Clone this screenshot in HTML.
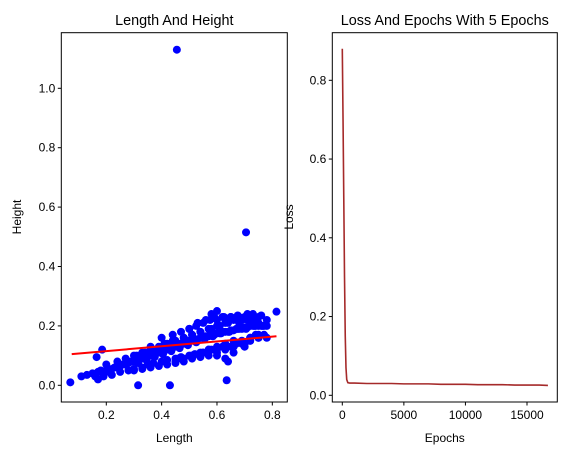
<!DOCTYPE html>
<html><head><meta charset="utf-8"><style>
body{margin:0;background:#fff}
svg{display:block;font-family:"Liberation Sans","DejaVu Sans",sans-serif}
</style></head><body>
<svg id="fig" width="585" height="455"></svg>
<script>
// Scatter data (Length vs Height)
const lengths = [0.07,0.11,0.13,0.15,0.16,0.17,0.18,0.19,0.2,0.21,0.22,0.23,0.24,0.25,0.26,0.27,0.28,0.29,0.3,0.31,0.32,0.33,0.34,0.35,0.36,0.37,0.38,0.39,0.4,0.41,0.42,0.43,0.44,0.45,0.46,0.47,0.48,0.49,0.5,0.51,0.52,0.53,0.54,0.55,0.56,0.57,0.58,0.59,0.6,0.61,0.62,0.63,0.64,0.65,0.66,0.67,0.68,0.69,0.7,0.71,0.72,0.73,0.74,0.75,0.76,0.77,0.78,
0.17,0.19,0.22,0.25,0.28,0.3,0.33,0.35,0.37,0.4,0.42,0.45,0.47,0.5,0.52,0.55,0.57,0.6,0.62,0.65,0.67,0.7,0.72,0.75,0.77,
0.2,0.24,0.27,0.31,0.34,0.38,0.41,0.44,0.48,0.51,0.54,0.58,0.61,0.64,0.68,0.71,0.74,
0.36,0.4,0.44,0.47,0.5,0.53,0.56,0.59,0.62,0.65,0.68,0.71,0.73,0.76,
0.46,0.51,0.55,0.58,0.6,0.63,0.66,0.69,0.72,0.74,
0.3,0.33,0.36,0.39,0.42,0.45,0.48,0.51,0.54,0.57,0.6,0.63,0.66,0.69,0.72,0.75,0.78,
0.3,0.33,0.36,0.39,0.42,0.45,0.48,0.51,0.54,0.57,0.6,0.63,0.66,0.69,0.72,0.75,0.78,
0.315,0.345,0.375,0.405,0.435,0.465,0.495,0.525,0.555,0.585,0.615,0.645,0.675,0.705,0.735,0.765,
0.45,0.48,0.51,0.54,0.57,0.6,0.63,0.66,0.69,0.72,0.75,
0.5,0.525,0.55,0.575,0.6,0.625,0.65,0.675,0.7,0.725,0.75,
0.455,0.705,0.815,0.315,0.43,0.635,0.64,0.185,0.165,0.7,0.58,0.6];
const heights = [0.01,0.03,0.035,0.04,0.03,0.045,0.05,0.04,0.05,0.045,0.055,0.06,0.06,0.065,0.07,0.07,0.075,0.08,0.08,0.085,0.09,0.09,0.095,0.1,0.1,0.105,0.11,0.11,0.115,0.12,0.12,0.125,0.13,0.13,0.135,0.14,0.14,0.145,0.15,0.15,0.155,0.155,0.16,0.16,0.165,0.165,0.17,0.17,0.175,0.175,0.18,0.18,0.18,0.185,0.185,0.19,0.19,0.19,0.195,0.195,0.2,0.2,0.2,0.2,0.2,0.2,0.2,
0.02,0.03,0.035,0.045,0.05,0.055,0.06,0.07,0.075,0.08,0.085,0.09,0.095,0.1,0.105,0.11,0.12,0.12,0.13,0.13,0.14,0.14,0.15,0.16,0.17,
0.07,0.08,0.09,0.1,0.11,0.12,0.14,0.15,0.16,0.17,0.18,0.19,0.2,0.21,0.21,0.22,0.22,
0.13,0.16,0.17,0.18,0.19,0.21,0.22,0.23,0.23,0.23,0.23,0.24,0.24,0.235,
0.09,0.1,0.11,0.12,0.1,0.09,0.11,0.14,0.16,0.17,
0.05,0.055,0.06,0.065,0.07,0.075,0.08,0.09,0.095,0.1,0.11,0.12,0.13,0.14,0.15,0.16,0.16,
0.1,0.11,0.12,0.13,0.14,0.15,0.16,0.17,0.18,0.19,0.2,0.21,0.22,0.22,0.23,0.23,0.22,
0.075,0.085,0.095,0.105,0.115,0.125,0.135,0.145,0.155,0.165,0.175,0.18,0.19,0.19,0.2,0.2,
0.08,0.09,0.1,0.11,0.12,0.13,0.14,0.15,0.15,0.16,0.17,
0.19,0.2,0.21,0.22,0.22,0.23,0.23,0.235,0.23,0.22,0.21,
1.13,0.515,0.248,0.0,0.0,0.017,0.08,0.12,0.095,0.13,0.24,0.25];
const fitX = [0.075,0.815];
const fitY = [0.105,0.165];
const xTicksL = [0.2,0.4,0.6,0.8];
const yTicksL = [0.0,0.2,0.4,0.6,0.8,1.0];
// Loss data
const epochs = [0,60,120,180,240,300,360,450,600,1000,2000,3000,4000,5000,6000,7000,8000,9000,10000,11000,12000,13000,14000,15000,16000,16700];
const losses = [0.88,0.7,0.5,0.3,0.15,0.07,0.04,0.032,0.031,0.031,0.030,0.030,0.030,0.029,0.029,0.029,0.028,0.028,0.028,0.027,0.027,0.027,0.026,0.026,0.026,0.025];
const xTicksR = [0,5000,10000,15000];
const yTicksR = [0.0,0.2,0.4,0.6,0.8];

const NS="http://www.w3.org/2000/svg";
const svg=document.getElementById('fig');
function mk(tag,attrs,parent){const e=document.createElementNS(NS,tag);for(const k in attrs)e.setAttribute(k,attrs[k]);(parent||svg).appendChild(e);return e;}
function txt(s,attrs,parent){const e=mk('text',attrs,parent);e.textContent=s;return e;}

// Left axes
const L={x0:61.3,x1:287.3,y0:32.7,y1:402};
const sxL=v=>106.3+(v-0.2)*276.7;
const syL=v=>385.3-v*297;
const gL=mk('g',{});


for(let i=0;i<lengths.length;i++){
  const c=mk('circle',{cx:sxL(lengths[i]),cy:syL(heights[i]),r:4,fill:'#0000ff'},gL);
  
  
}
const fl=mk('line',{x1:sxL(fitX[0]),y1:syL(fitY[0]),x2:sxL(fitX[1]),y2:syL(fitY[1]),stroke:'#ff0000','stroke-width':2},gL);


const rL=mk('rect',{x:L.x0,y:L.y0,width:L.x1-L.x0,height:L.y1-L.y0,fill:'none',stroke:'#000','stroke-width':1});


xTicksL.forEach(t=>{const x=sxL(t);mk('line',{x1:x,y1:L.y1,x2:x,y2:L.y1+3.5,stroke:'#000'});
  const e=txt(t.toFixed(1),{x:x,y:L.y1+17,'font-size':12,'text-anchor':'middle'});
  });
yTicksL.forEach(t=>{const y=syL(t);mk('line',{x1:L.x0-3.5,y1:y,x2:L.x0,y2:y,stroke:'#000'});
  const e=txt(t.toFixed(1),{x:L.x0-6,y:y+4,'font-size':12,'text-anchor':'end'});
  });
let e;
e=txt('Length And Height',{x:174.3,y:25,'font-size':14.4,'text-anchor':'middle'});

e=txt('Length',{x:174.3,y:442,'font-size':12,'text-anchor':'middle'});

e=txt('Height',{x:0,y:0,'font-size':12,'text-anchor':'middle',transform:'translate(21,217) rotate(-90)'});


// Right axes
const R={x0:332.3,x1:557.3,y0:32.7,y1:402};
const sxR=v=>342.3+v*(184.7/15000);
const syR=v=>395.3-v*393.75;
const pts=epochs.map((ep,i)=>sxR(ep).toFixed(2)+','+syR(losses[i]).toFixed(2)).join(' ');
const pl=mk('polyline',{points:pts,fill:'none',stroke:'#a52a2a','stroke-width':1.6});


const rR=mk('rect',{x:R.x0,y:R.y0,width:R.x1-R.x0,height:R.y1-R.y0,fill:'none',stroke:'#000','stroke-width':1});


xTicksR.forEach(t=>{const x=sxR(t);mk('line',{x1:x,y1:R.y1,x2:x,y2:R.y1+3.5,stroke:'#000'});
  const e=txt(String(t),{x:x,y:R.y1+17,'font-size':12,'text-anchor':'middle'});
  });
yTicksR.forEach(t=>{const y=syR(t);mk('line',{x1:R.x0-3.5,y1:y,x2:R.x0,y2:y,stroke:'#000'});
  const e=txt(t.toFixed(1),{x:R.x0-6,y:y+4,'font-size':12,'text-anchor':'end'});
  });
e=txt('Loss And Epochs With 5 Epochs',{x:444.8,y:25,'font-size':14.4,'text-anchor':'middle'});

e=txt('Epochs',{x:444.8,y:442,'font-size':12,'text-anchor':'middle'});

e=txt('Loss',{x:0,y:0,'font-size':12,'text-anchor':'middle',transform:'translate(293,217) rotate(-90)'});

</script>
</body></html>
